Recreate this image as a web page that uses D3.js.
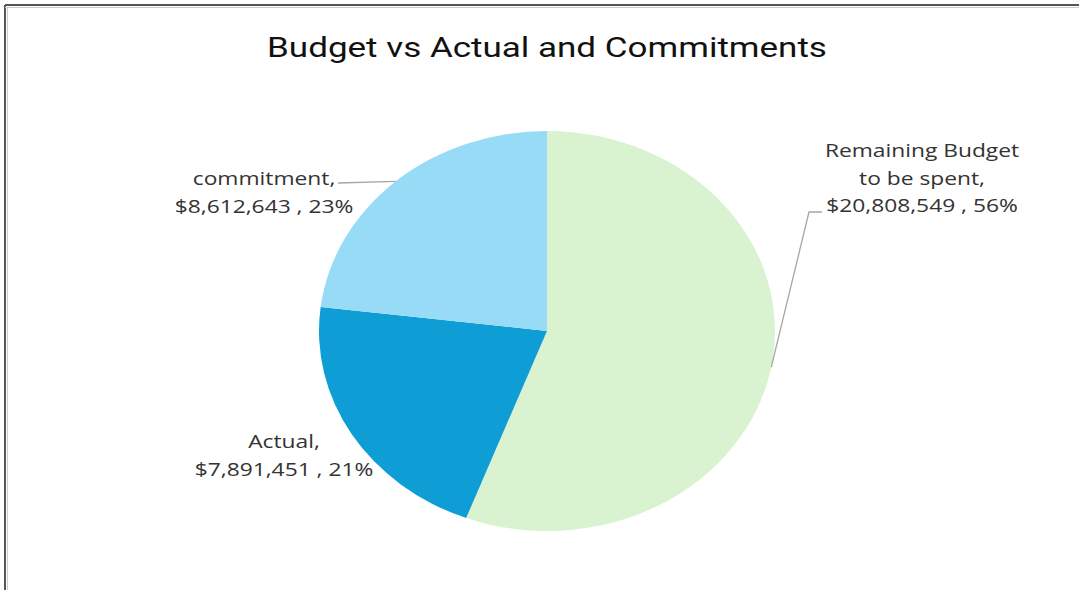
<!DOCTYPE html>
<html>
<head>
<meta charset="utf-8">
<script src="https://cdn.jsdelivr.net/npm/d3@7"></script>
<style>
  html, body { margin: 0; padding: 0; background: #fff; }
  svg { display: block; }
</style>
</head>
<body>
<div id="chart"></div>
<script>
// Budget breakdown
const categories = ["Remaining Budget to be spent", "Actual", "commitment"];
const values = [20808549, 7891451, 8612643];
const colors = ["#d9f2d0", "#0e9ed5", "#97dbf6"];
const title = "Budget vs Actual and Commitments";

const W = 1079, H = 590;
const cx = 547, cy = 331, r = 200, sx = 1.14; // pie is drawn slightly wide

const svg = d3.select("#chart").append("svg")
  .attr("width", W).attr("height", H);

// frame
svg.append("line").attr("x1", 5).attr("y1", 5).attr("x2", W).attr("y2", 5)
  .attr("stroke", "#555").attr("stroke-width", 2);
svg.append("line").attr("x1", 5).attr("y1", 5).attr("x2", 5).attr("y2", H)
  .attr("stroke", "#555").attr("stroke-width", 2);
svg.append("line").attr("x1", 5).attr("y1", 7.5).attr("x2", W).attr("y2", 7.5)
  .attr("stroke", "#ccc").attr("stroke-width", 1);
svg.append("line").attr("x1", 7.5).attr("y1", 7.5).attr("x2", 7.5).attr("y2", H)
  .attr("stroke", "#ccc").attr("stroke-width", 1);

// title
svg.append("text")
  .attr("transform", `translate(547,57) scale(1.25,1)`)
  .attr("text-anchor", "middle")
  .attr("font-family", "Roboto, 'Noto Sans', sans-serif")
  .attr("font-size", 28)
  .attr("fill", "#111")
  .text(title);

const total = d3.sum(values);
const pie = d3.pie().sort(null).value(d => d)(values);
const arc = d3.arc().innerRadius(0).outerRadius(r);

const g = svg.append("g").attr("transform", `translate(${cx},${cy}) scale(${sx},1)`);
g.selectAll("path").data(pie).join("path")
  .attr("d", arc)
  .attr("fill", (d, i) => colors[i]);

// point on the (stretched) rim at a slice's mid angle
function rim(d) {
  const a = (d.startAngle + d.endAngle) / 2;
  return [cx + sx * r * Math.sin(a), cy - r * Math.cos(a)];
}

const fmt = d3.format(",");
const pct = v => Math.round(v / total * 100) + "%";

// label layout: centre x, first baseline, leader polyline end (if any)
const layout = [
  { x: 922, y: 157, lines: ["Remaining Budget", "to be spent,"], leader: [[809, 212], [822, 212]] },
  { x: 284, y: 448, lines: ["Actual,"], leader: null },
  { x: 264, y: 185, lines: ["commitment,"], leader: [[338, 183]] }
];

pie.forEach((d, i) => {
  const L = layout[i];
  const lines = L.lines.concat([`$${fmt(values[i])} , ${pct(values[i])}`]);
  if (L.leader) {
    const pts = [rim(d)].concat(L.leader);
    svg.append("path")
      .attr("d", d3.line()(pts))
      .attr("fill", "none")
      .attr("stroke", "#a6a6a6")
      .attr("stroke-width", 1.3);
  }
  lines.forEach((t, k) => {
    svg.append("text")
      .attr("transform", `translate(${L.x},${L.y + k * 27.5}) scale(1.2,1)`)
      .attr("text-anchor", "middle")
      .attr("font-family", "'Open Sans', 'Noto Sans', sans-serif")
      .attr("font-size", 19)
      .attr("fill", "#333")
      .text(t);
  });
});
</script>
</body>
</html>
